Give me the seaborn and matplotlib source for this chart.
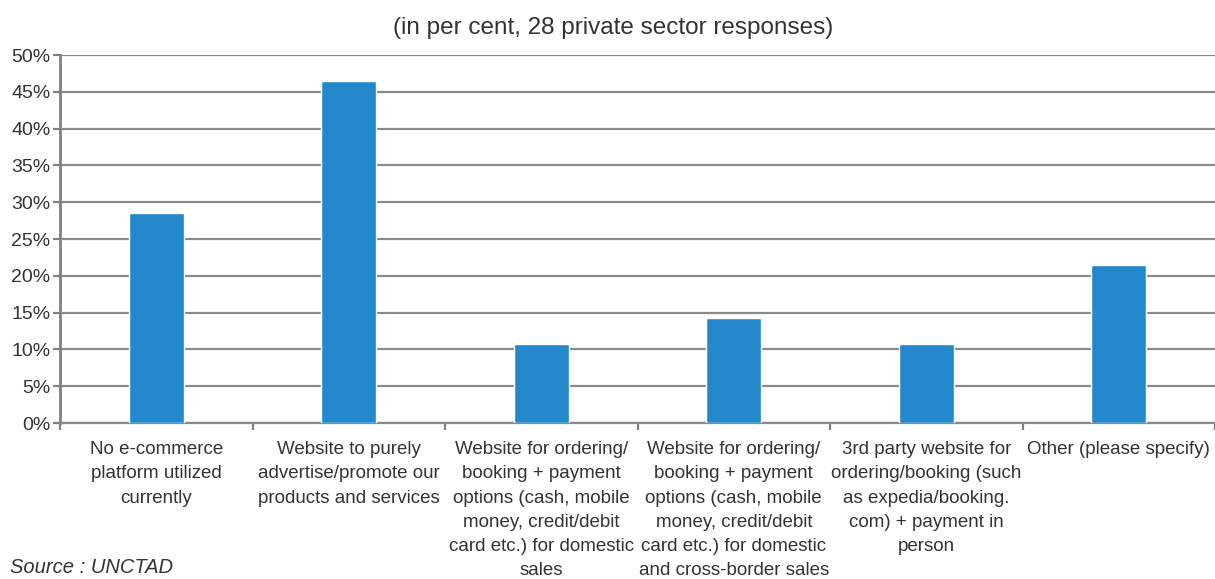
import matplotlib
matplotlib.use("Agg")
import matplotlib.pyplot as plt
import seaborn as sns
import pandas as pd
from matplotlib.ticker import FixedLocator, PercentFormatter

categories = [
    "No e-commerce\nplatform utilized\ncurrently",
    "Website to purely\nadvertise/promote our\nproducts and services",
    "Website for ordering/\nbooking + payment\noptions (cash, mobile\nmoney, credit/debit\ncard etc.) for domestic\nsales",
    "Website for ordering/\nbooking + payment\noptions (cash, mobile\nmoney, credit/debit\ncard etc.) for domestic\nand cross-border sales",
    "3rd party website for\nordering/booking (such\nas expedia/booking.\ncom) + payment in\nperson",
    "Other (please specify)",
]
values = [28.57, 46.43, 10.71, 14.29, 10.71, 21.43]
yticks = [0, 5, 10, 15, 20, 25, 30, 35, 40, 45, 50]

sns.set_theme(style="white")
plt.rcParams["font.family"] = ["Liberation Sans", "DejaVu Sans"]

df = pd.DataFrame({"cat": categories, "val": values})

fig = plt.figure(figsize=(12.15, 5.79), dpi=100)
ax = fig.add_axes([0.0494, 0.2694, 0.9506, 0.6356])

sns.barplot(data=df, x="cat", y="val", color="#2389cc", width=0.285,
            saturation=1, ax=ax, zorder=3)

ax.set_ylim(0, 50)
ax.set_xlim(-0.5, len(categories) - 0.5)
ax.set_yticks(yticks)
ax.yaxis.set_major_formatter(PercentFormatter(decimals=0))
ax.yaxis.grid(True, color="#8a8a8a", linewidth=1.6, zorder=0)
ax.set_axisbelow(True)

for s in ["top", "right"]:
    ax.spines[s].set_visible(False)
ax.spines["left"].set_color("#808080")
ax.spines["left"].set_linewidth(2)
ax.spines["bottom"].set_color("#8a8a8a")
ax.spines["bottom"].set_linewidth(1.6)

ax.tick_params(axis="y", which="major", left=True, length=5, width=1.6,
               color="#808080", labelsize=14, labelcolor="#333333", pad=2)
ax.tick_params(axis="x", which="major", bottom=False, labelsize=13.5,
               labelcolor="#333333", pad=7)
ax.xaxis.set_minor_locator(FixedLocator([i - 0.5 for i in range(len(categories) + 1)]))
ax.tick_params(axis="x", which="minor", bottom=True, length=5, width=1.6,
               color="#808080")
for lab in ax.get_xticklabels():
    lab.set_verticalalignment("top")
    lab.set_linespacing(1.56)
ax.set_xlabel("")
ax.set_ylabel("")

fig.text(0.505, 0.951, "(in per cent, 28 private sector responses)", ha="center",
         va="center", fontsize=17.5, color="#333333")
fig.text(0.008, 0.003, "Source : UNCTAD", ha="left", va="bottom",
         fontsize=14.5, style="italic", color="#333333")

fig.savefig("out.png", dpi=100)
